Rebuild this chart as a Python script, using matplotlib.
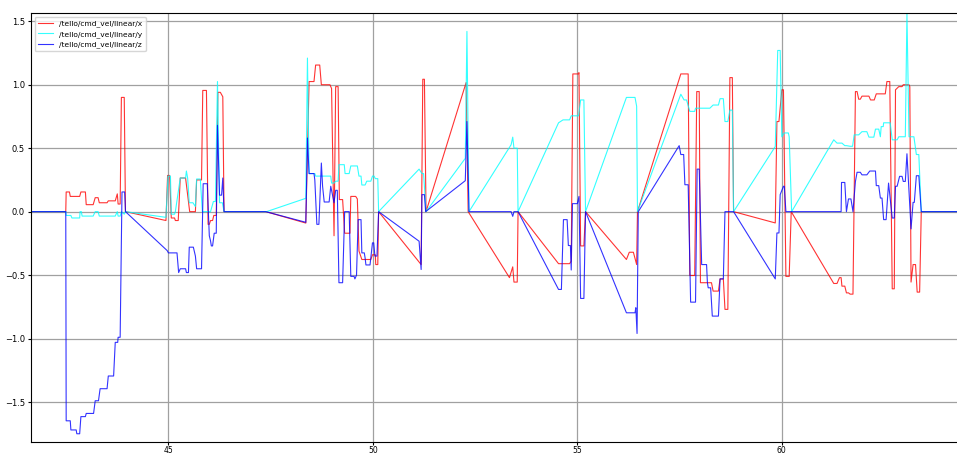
import matplotlib
matplotlib.use("Agg")
import matplotlib.pyplot as plt

# (time [s], value) samples
linear_x = [
    (41.64, 0.0), (42.49, 0.0), (42.50, 0.155), (42.58, 0.155), (42.60, 0.12), (42.83, 0.12),
    (42.86, 0.155), (42.97, 0.155), (42.99, 0.055), (43.16, 0.055), (43.21, 0.11), (43.28, 0.11),
    (43.31, 0.07), (43.50, 0.07), (43.53, 0.085), (43.70, 0.085), (43.75, 0.14), (43.77, 0.06),
    (43.82, 0.06), (43.85, 0.90), (43.92, 0.90), (43.95, 0.0), (44.94, -0.07), (44.98, 0.285),
    (45.03, 0.285), (45.07, -0.05), (45.15, -0.05), (45.17, -0.07), (45.24, -0.07), (45.29, 0.265),
    (45.42, 0.265), (45.52, 0.0), (45.66, 0.0), (45.69, 0.25), (45.81, 0.25), (45.84, 0.955),
    (45.93, 0.955), (45.97, -0.10), (46.00, -0.10), (46.03, -0.07), (46.08, -0.07), (46.11, -0.03),
    (46.17, -0.03), (46.21, 0.94), (46.27, 0.94), (46.33, 0.905), (46.36, 0.0), (47.38, 0.0),
    (48.36, -0.09), (48.44, 1.025), (48.56, 1.025), (48.60, 1.155), (48.70, 1.155), (48.74, 1.0),
    (48.95, 1.0), (48.99, 0.97), (49.05, -0.19), (49.09, 0.985), (49.15, 0.985), (49.18, 0.095),
    (49.26, 0.095), (49.31, -0.17), (49.44, -0.17), (49.46, 0.12), (49.58, 0.12), (49.62, 0.10),
    (49.66, -0.31), (49.73, -0.377), (49.95, -0.377), (49.99, -0.34), (50.06, -0.34), (50.07, -0.417),
    (50.12, -0.417), (50.14, 0.0), (51.18, -0.417), (51.22, 1.043), (51.26, 1.043), (51.30, 0.0),
    (52.28, 1.017), (52.33, 0.0), (53.34, -0.52), (53.42, -0.435), (53.45, -0.555), (53.53, -0.555),
    (53.55, 0.0), (54.54, -0.41), (54.81, -0.41), (54.85, -0.39), (54.89, 1.085), (55.02, 1.085),
    (55.04, 1.095), (55.08, -0.27), (55.16, -0.27), (55.20, 0.0), (56.20, -0.377), (56.27, -0.32),
    (56.37, -0.32), (56.45, -0.417), (56.47, 0.0), (57.53, 1.085), (57.71, 1.085), (57.75, -0.503),
    (57.87, -0.503), (57.92, 0.946), (57.98, 0.946), (58.01, -0.56), (58.28, -0.56), (58.32, -0.626),
    (58.45, -0.626), (58.49, -0.53), (58.57, -0.53), (58.61, -0.77), (58.68, -0.77), (58.73, 1.056),
    (58.79, 1.056), (58.82, 0.0), (59.84, -0.089), (59.88, 0.71), (59.93, 0.71), (60.00, 0.96),
    (60.04, 0.96), (60.10, -0.51), (60.18, -0.51), (60.23, 0.0), (61.27, -0.566), (61.35, -0.566),
    (61.41, -0.52), (61.45, -0.52), (61.47, -0.587), (61.54, -0.587), (61.58, -0.64), (61.63, -0.64),
    (61.67, -0.65), (61.74, -0.65), (61.80, 0.946), (61.84, 0.946), (61.88, 0.886), (61.92, 0.886),
    (61.96, 0.91), (62.13, 0.91), (62.17, 0.88), (62.26, 0.88), (62.31, 0.928), (62.53, 0.928),
    (62.57, 1.025), (62.64, 1.025), (62.70, -0.608), (62.75, -0.608), (62.78, 0.96), (62.86, 0.985),
    (62.94, 0.985), (62.97, 1.0), (63.11, 1.0), (63.13, 0.985), (63.16, -0.555), (63.21, -0.417),
    (63.27, -0.417), (63.31, -0.634), (63.37, -0.634), (63.41, 0.0), (64.34, 0.0),
]

linear_y = [
    (41.64, 0.0), (42.49, 0.0), (42.50, -0.03), (42.615, -0.03), (42.64, -0.05), (42.83, -0.05),
    (42.84, 0.0), (42.87, 0.0), (42.89, -0.035), (43.16, -0.035), (43.21, 0.0), (43.28, 0.0),
    (43.31, -0.035), (43.70, -0.035), (43.75, 0.0), (43.77, -0.035), (43.82, -0.035), (43.85, 0.0),
    (43.92, -0.02), (43.95, 0.0), (44.94, -0.045), (44.99, 0.28), (45.05, 0.28), (45.07, -0.02),
    (45.15, -0.02), (45.17, 0.0), (45.29, 0.265), (45.42, 0.265), (45.44, 0.32), (45.47, 0.265),
    (45.51, 0.07), (45.60, 0.07), (45.66, 0.04), (45.69, 0.257), (45.78, 0.257), (45.83, 0.0),
    (46.03, 0.0), (46.10, 0.08), (46.15, 0.08), (46.20, 1.025), (46.25, 0.07), (46.32, 0.07),
    (46.36, 0.0), (47.40, 0.0), (48.36, 0.105), (48.40, 1.21), (48.44, 0.30), (48.58, 0.30),
    (48.60, 0.28), (48.97, 0.28), (48.99, 0.225), (49.05, 0.225), (49.09, 0.24), (49.15, 0.24),
    (49.17, 0.37), (49.30, 0.37), (49.32, 0.30), (49.42, 0.30), (49.46, 0.36), (49.62, 0.36),
    (49.66, 0.28), (49.71, 0.28), (49.73, 0.21), (49.81, 0.21), (49.85, 0.24), (49.95, 0.24),
    (49.99, 0.28), (50.03, 0.28), (50.06, 0.26), (50.12, 0.26), (50.14, 0.0), (51.13, 0.335),
    (51.20, 0.30), (51.24, 0.30), (51.30, 0.0), (52.26, 0.42), (52.30, 1.42), (52.35, 0.0),
    (53.38, 0.527), (53.42, 0.587), (53.45, 0.50), (53.53, 0.50), (53.55, 0.0), (54.54, 0.70),
    (54.65, 0.723), (54.81, 0.723), (54.85, 0.755), (55.03, 0.755), (55.08, 0.88), (55.16, 0.88),
    (55.20, 0.0), (56.20, 0.90), (56.41, 0.90), (56.45, 0.83), (56.47, 0.0), (57.53, 0.925),
    (57.61, 0.88), (57.67, 0.88), (57.75, 0.79), (57.87, 0.79), (57.89, 0.815), (58.24, 0.815),
    (58.32, 0.84), (58.45, 0.84), (58.49, 0.89), (58.57, 0.89), (58.61, 0.71), (58.68, 0.71),
    (58.73, 0.80), (58.79, 0.80), (58.82, 0.0), (59.84, 0.513), (59.90, 1.27), (59.96, 1.27),
    (60.00, 0.59), (60.06, 0.62), (60.16, 0.62), (60.18, 0.59), (60.24, 0.0), (61.27, 0.566),
    (61.35, 0.54), (61.47, 0.54), (61.54, 0.52), (61.58, 0.52), (61.67, 0.515), (61.73, 0.515),
    (61.77, 0.605), (61.88, 0.605), (61.96, 0.63), (62.08, 0.63), (62.13, 0.587), (62.25, 0.587),
    (62.29, 0.65), (62.37, 0.65), (62.41, 0.59), (62.43, 0.67), (62.48, 0.67), (62.49, 0.70),
    (62.65, 0.70), (62.70, 0.566), (62.82, 0.566), (62.86, 0.59), (63.02, 0.59), (63.06, 1.557),
    (63.11, 0.59), (63.23, 0.59), (63.29, 0.45), (63.35, 0.45), (63.41, 0.0), (64.34, 0.0),
]

linear_z = [
    (41.64, 0.0), (42.49, 0.0), (42.50, -1.648), (42.60, -1.648), (42.615, -1.72), (42.745, -1.72),
    (42.76, -1.75), (42.83, -1.75), (42.86, -1.615), (42.97, -1.615), (42.99, -1.59), (43.17, -1.59),
    (43.21, -1.49), (43.29, -1.49), (43.33, -1.395), (43.50, -1.395), (43.53, -1.295), (43.66, -1.295),
    (43.70, -1.03), (43.76, -1.03), (43.77, -0.99), (43.82, -0.99), (43.865, 0.155), (43.93, 0.155),
    (43.95, 0.0), (44.97, -0.307), (45.00, -0.325), (45.21, -0.325), (45.25, -0.48), (45.29, -0.45),
    (45.42, -0.45), (45.44, -0.48), (45.49, -0.48), (45.51, -0.28), (45.61, -0.28), (45.66, -0.35),
    (45.69, -0.45), (45.81, -0.45), (45.85, 0.22), (45.95, 0.22), (46.00, -0.19), (46.03, -0.23),
    (46.05, -0.27), (46.08, -0.27), (46.12, -0.17), (46.17, -0.17), (46.20, 0.68), (46.25, 0.13),
    (46.30, 0.13), (46.33, 0.265), (46.36, 0.0), (47.38, 0.0), (48.36, -0.084), (48.40, 0.58),
    (48.44, 0.30), (48.56, 0.30), (48.58, 0.25), (48.63, -0.10), (48.68, -0.10), (48.74, 0.383),
    (48.77, 0.2), (48.81, 0.076), (48.93, 0.076), (48.97, 0.2), (48.995, 0.16), (49.05, 0.07),
    (49.09, 0.168), (49.13, 0.168), (49.17, -0.56), (49.26, -0.56), (49.31, 0.0), (49.42, 0.0),
    (49.46, -0.51), (49.54, -0.51), (49.56, -0.53), (49.60, -0.50), (49.64, -0.063), (49.71, -0.063),
    (49.73, -0.325), (49.79, -0.325), (49.81, -0.365), (49.83, -0.42), (49.93, -0.42), (49.99, -0.246),
    (50.02, -0.246), (50.05, -0.35), (50.10, -0.35), (50.14, 0.0), (51.13, -0.233), (51.18, -0.456),
    (51.20, 0.134), (51.26, 0.134), (51.29, 0.0), (52.26, 0.244), (52.30, 0.71), (52.35, 0.0),
    (53.38, 0.0), (53.42, -0.037), (53.45, 0.0), (53.55, 0.0), (54.54, -0.613), (54.61, -0.613),
    (54.66, -0.063), (54.75, -0.063), (54.78, -0.267), (54.83, -0.267), (54.85, -0.46), (54.88, 0.063),
    (55.00, 0.063), (55.04, 0.12), (55.08, -0.684), (55.16, -0.684), (55.20, 0.0), (56.20, -0.797),
    (56.41, -0.797), (56.43, -0.757), (56.46, -0.96), (56.49, 0.0), (57.49, 0.52), (57.53, 0.45),
    (57.60, 0.45), (57.63, 0.212), (57.71, 0.212), (57.77, -0.713), (57.89, -0.713), (57.93, 0.335),
    (57.98, 0.335), (58.04, -0.417), (58.16, -0.417), (58.18, -0.56), (58.20, -0.60), (58.26, -0.60),
    (58.30, -0.823), (58.45, -0.823), (58.49, -0.53), (58.57, -0.53), (58.61, 0.0), (58.82, 0.0),
    (59.84, -0.53), (59.88, -0.168), (59.93, -0.168), (59.96, 0.134), (60.04, 0.2), (60.06, 0.2),
    (60.10, 0.0), (61.45, 0.0), (61.46, 0.23), (61.54, 0.23), (61.58, 0.0), (61.63, 0.10),
    (61.69, 0.10), (61.74, 0.0), (61.80, 0.238), (61.84, 0.31), (61.92, 0.31), (61.96, 0.29),
    (62.08, 0.29), (62.15, 0.32), (62.29, 0.32), (62.31, 0.205), (62.37, 0.205), (62.41, 0.107),
    (62.45, 0.107), (62.49, -0.063), (62.55, -0.063), (62.61, 0.225), (62.70, -0.05), (62.75, -0.05),
    (62.78, 0.2), (62.82, 0.2), (62.88, 0.278), (62.94, 0.278), (62.97, 0.238), (63.02, 0.238),
    (63.06, 0.456), (63.11, 0.16), (63.16, -0.136), (63.21, 0.073), (63.24, 0.073), (63.29, 0.283),
    (63.35, 0.283), (63.41, 0.0), (64.34, 0.0),
]

series = [
    ("/tello/cmd_vel/linear/x", linear_x, "red"),
    ("/tello/cmd_vel/linear/y", linear_y, "cyan"),
    ("/tello/cmd_vel/linear/z", linear_z, "blue"),
]

fig = plt.figure(figsize=(9.57, 4.53), dpi=100)
ax = fig.add_axes([0.0324, 0.024, 0.97, 0.947])

for label, pts, color in series:
    t, v = zip(*pts)
    ax.plot(t, v, color=color, lw=0.8, alpha=0.8, label=label)

ax.set_xlim(41.64, 64.34)
ax.set_ylim(-1.816, 1.564)
ax.set_xticks([45, 50, 55, 60])
ax.set_yticks([-1.5, -1.0, -0.5, 0.0, 0.5, 1.0, 1.5])
ax.grid(True, color="#a0a0a0", lw=0.9)
ax.tick_params(axis="y", labelsize=6, length=2.5, pad=2)
ax.tick_params(axis="x", labelsize=5.5, length=2, pad=0.5)
ax.legend(loc="upper left", fontsize=5.4, handlelength=2.0, borderpad=0.45, labelspacing=0.45)

fig.savefig("out.png", dpi=100)
